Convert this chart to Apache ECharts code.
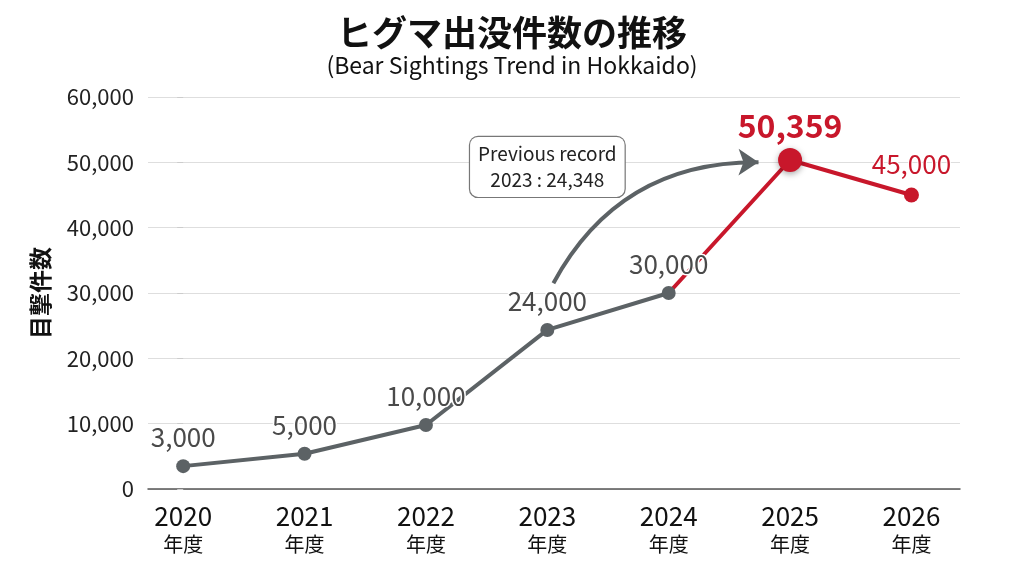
<!DOCTYPE html>
<html><head><meta charset="utf-8">
<script src="https://cdn.jsdelivr.net/npm/echarts@6/dist/echarts.min.js"></script>
<style>html,body{margin:0;padding:0;background:#fff}#c{width:1024px;height:572px}</style>
</head><body><div id="c"></div>
<script>
const years = ['2020','2021','2022','2023','2024','2025','2026'];
const yearSuffix = '年度';
const plotValues = [3500, 5400, 9800, 24348, 30000, 50359, 45000];
const labelTexts = ['3,000','5,000','10,000','24,000','30,000','50,359','45,000'];
const yTicks = [0,10000,20000,30000,40000,50000,60000];
const recordYear = '2023';
const recordValue = '24,348';

const FONT = '"Noto Sans CJK JP", "Noto Sans", sans-serif';
const GRAY = '#5c6265';
const RED = '#c8172b';

const grayData = [];
for (let i = 0; i <= 4; i++) grayData.push({value:[i, plotValues[i]], label:{formatter: labelTexts[i]}});
const redData = [];
for (let i = 4; i <= 6; i++) {
  const item = {value:[i, plotValues[i]]};
  if (i === 4) { item.symbolSize = 0; item.label = {show:false}; }
  else if (i === 5) {
    item.symbolSize = 24;
    item.itemStyle = {shadowBlur: 6, shadowColor:'rgba(0,0,0,0.35)', shadowOffsetY: 2};
    item.label = {formatter: labelTexts[i], fontSize: 32, fontWeight: 'bold', distance: 6};
  } else {
    item.symbolSize = 15;
    item.label = {formatter: labelTexts[i]};
  }
  redData.push(item);
}

const chart = echarts.init(document.getElementById('c'), null, {renderer:'canvas'});
chart.setOption({
  backgroundColor:'#ffffff',
  animation:false,
  textStyle:{fontFamily:FONT},
  title:{
    text:'ヒグマ出没件数の推移',
    subtext:'(Bear Sightings Trend in Hokkaido)',
    left:'center', top:10, itemGap:4,
    textStyle:{fontFamily:FONT, fontSize:35, fontWeight:'bold', color:'#111'},
    subtextStyle:{fontFamily:FONT, fontSize:23, color:'#111'}
  },
  grid:{left:148, right:64, top:97, bottom:83},
  xAxis:{
    type:'value', min:-0.29, max:6.4,
    splitLine:{show:false},
    axisLine:{show:true, lineStyle:{color:'#555', width:1.5}},
    axisTick:{show:false},
    axisLabel:{
      customValues:[0,1,2,3,4,5,6],
      margin:12,
      formatter:(v)=>'{y|'+years[Math.round(v)]+'}\n{n|'+yearSuffix+'}',
      rich:{
        y:{fontFamily:FONT, fontSize:26, color:'#111', lineHeight:30},
        n:{fontFamily:FONT, fontSize:20, color:'#111', lineHeight:26}
      }
    }
  },
  yAxis:{
    type:'value', min:yTicks[0], max:yTicks[yTicks.length-1], interval:10000,
    name:'目撃件数', nameLocation:'middle', nameRotate:90, nameGap:96,
    nameTextStyle:{fontFamily:FONT, fontSize:23, fontWeight:'bold', color:'#111'},
    axisLine:{show:false},
    axisTick:{show:true, length:6, lineStyle:{color:'#ccc'}},
    splitLine:{lineStyle:{color:'#dedede', width:1}},
    axisLabel:{fontFamily:FONT, fontSize:22, color:'#222', margin:14,
      formatter:(v)=>v.toLocaleString('en-US')}
  },
  series:[
    {
      type:'line', data:redData, z:3,
      lineStyle:{color:RED, width:4},
      itemStyle:{color:RED},
      symbol:'circle',
      label:{show:true, position:'top', distance:10, fontFamily:FONT, fontSize:26, color:RED,
        textBorderColor:'#fff', textBorderWidth:2}
    },
    {
      type:'line', data:grayData, z:4,
      lineStyle:{color:GRAY, width:4},
      itemStyle:{color:GRAY},
      symbol:'circle', symbolSize:14,
      label:{show:true, position:'top', distance:9, fontFamily:FONT, fontSize:26, color:'#4a4a4a',
        textBorderColor:'#fff', textBorderWidth:3}
    },
    {
      type:'lines', coordinateSystem:'cartesian2d', z:2,
      polyline:false,
      symbol:['none','arrow'], symbolSize:[0,20],
      lineStyle:{color:GRAY, width:4, curveness:0.3, opacity:1},
      data:[{coords:[[3.05, 31500],[4.74, 50000]]}],
      silent:true
    }
  ]
});

const p = chart.convertToPixel({gridIndex:0}, [3.0, 49300]);
chart.setOption({
  graphic:[{
    type:'text', x:p[0], y:p[1], z:10,
    style:{
      text:'Previous record\n'+recordYear+' : '+recordValue,
      fontFamily:FONT, fontSize:19, fill:'#222', lineHeight:26,
      align:'center', verticalAlign:'middle',
      backgroundColor:'#fff', borderColor:'#777', borderWidth:1.2, borderRadius:8,
      padding:[4,8,4,8]
    }
  }]
});
</script></body></html>
